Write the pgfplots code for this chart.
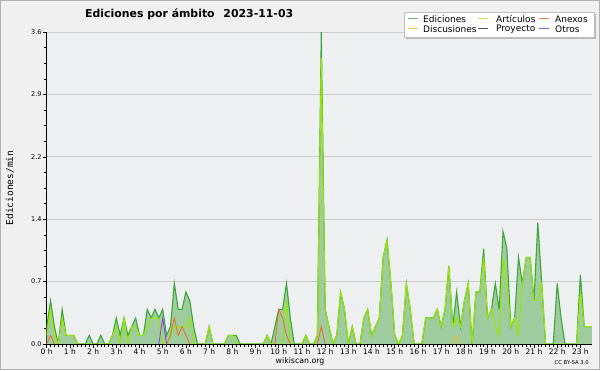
\documentclass[border=0pt]{standalone}
\usepackage{pgfplots}
\pgfplotsset{compat=1.18}
\usepackage{pgfplotstable}
\usepackage{fontspec}
\setmainfont{DejaVu Sans}
\newfontfamily\monofont{DejaVu Sans Mono}
\definecolor{outerbg}{HTML}{F0F0F0}
\definecolor{plotbg}{HTML}{EDEFF1}
\definecolor{efill}{HTML}{9FCC9F}
\definecolor{eline}{HTML}{3BA83B}
\definecolor{aline}{HTML}{9BE600}
\definecolor{nline}{HTML}{F06A20}
\definecolor{dline}{HTML}{E8C020}
\definecolor{oline}{HTML}{8A3CF0}
\definecolor{pline}{HTML}{555555}
\definecolor{gridc}{HTML}{CCCCCC}

\pgfplotstableread{
i E A
0 0.2 0.1
1 0.5 0.4
2 0.2 0.1
3 0 0
4 0.4 0.3
5 0.1 0.1
6 0.1 0.1
7 0.1 0.1
8 0 0
9 0 0
10 0 0
11 0.1 0
12 0 0
13 0 0
14 0.1 0
15 0 0
16 0 0
17 0.1 0.1
18 0.3 0.2
19 0.1 0
20 0.3 0.3
21 0.1 0
22 0.2 0.2
23 0.3 0.2
24 0.1 0.1
25 0.1 0.1
26 0.4 0.2
27 0.3 0.3
28 0.4 0.3
29 0.3 0.3
30 0.4 0
31 0.1 0
32 0.2 0.1
33 0.7 0.2
34 0.4 0.2
35 0.4 0.2
36 0.6 0.2
37 0.5 0.3
38 0.2 0
39 0 0
40 0 0
41 0 0
42 0.2 0.2
43 0 0
44 0 0
45 0 0
46 0 0
47 0.1 0.1
48 0.1 0.1
49 0.1 0
50 0 0
51 0 0
52 0 0
53 0 0
54 0 0
55 0 0
56 0 0
57 0.1 0.1
58 0 0
59 0.2 0
60 0.4 0
61 0.4 0
62 0.7 0.5
63 0.3 0
64 0 0
65 0 0
66 0 0
67 0.1 0.1
68 0 0
69 0 0
70 0.1 0.1
71 3.6 3.3
72 0.4 0.4
73 0.2 0.2
74 0 0
75 0.1 0.1
76 0.6 0.6
77 0.4 0.4
78 0 0
79 0.2 0.2
80 0 0
81 0 0
82 0.3 0.3
83 0.4 0.4
84 0.1 0.1
85 0.2 0.2
86 0.3 0.3
87 1.0 1.0
88 1.2 1.2
89 0.7 0.7
90 0.1 0.1
91 0 0
92 0.1 0.1
93 0.7 0.7
94 0.4 0.4
95 0 0
96 0 0
97 0 0
98 0.3 0.3
99 0.3 0.3
100 0.3 0.3
101 0.4 0.4
102 0.2 0.2
103 0.4 0.4
104 0.9 0.9
105 0.2 0.2
106 0.6 0.3
107 0.2 0.2
108 0.5 0.5
109 0.7 0.7
110 0 0
111 0.6 0.6
112 0.6 0.6
113 1.1 1.0
114 0.3 0.3
115 0.4 0.4
116 0.7 0.2
117 0.4 0.1
118 1.3 1.0
119 1.1 0.7
120 0.2 0.2
121 0.3 0.3
122 1.0 0.1
123 0.7 0.7
124 1.0 1.0
125 1.0 1.0
126 0.5 0.5
127 1.4 0.5
128 0.7 0.7
129 0 0
130 0 0
131 0 0
132 0.7 0
133 0.3 0
134 0 0
135 0 0
136 0 0
137 0 0
138 0.8 0.6
139 0.2 0.2
140 0.2 0.2
141 0.2 0.2
}\tabEA

\pgfplotstableread{
i v
0 0
1 0.1
2 0
nan nan
31 0
32 0.1
33 0.3
34 0.1
35 0.2
36 0.1
37 0
nan nan
59 0
60 0.4
61 0.3
62 0.1
63 0
nan nan
70 0
71 0.2
72 0
}\tabN

\pgfplotstableread{
i v
105 0
106 0.1
107 0
}\tabD

\pgfplotstableread{
i v
29 0
30 0.3
31 0
}\tabO

\begin{document}
\begin{tikzpicture}
\fill[outerbg] (0pt,0pt) rectangle (600pt,370pt);
\draw[gray!60, line width=1.2pt] (0.6pt,0.6pt) rectangle (599.4pt,369.4pt);
\begin{axis}[
  at={(46.7pt,26pt)}, anchor=south west,
  scale only axis, width=545.3pt, height=312pt,
  xmin=0, xmax=23.5, ymin=0, ymax=3.6,
  axis x line*=bottom, axis y line*=left,
  axis line style={black, line width=0.8pt},
  axis background/.style={fill=plotbg},
  xtick={0,...,23},
  xticklabels={0 h,1 h,2 h,3 h,4 h,5 h,6 h,7 h,8 h,9 h,10 h,11 h,12 h,13 h,14 h,15 h,16 h,17 h,18 h,19 h,20 h,21 h,22 h,23 h},
  minor x tick num=5,
  ytick={0,0.72,1.44,2.16,2.88,3.6},
  yticklabels={0.0,0.7,1.4,2.2,2.9,3.6},
  minor y tick num=3,
  tick align=outside,
  major tick length=4pt, minor tick length=3pt,
  every tick/.style={black, line width=0.6pt},
  ymajorgrids, major grid style={gridc, line width=0.8pt},
  xticklabel style={font=\fontsize{7.5}{8}\selectfont, inner sep=0.8pt},
  yticklabel style={font=\fontsize{6.5}{7}\selectfont, inner sep=1pt},
]
\addplot[draw=none, fill=efill] table[x expr=\thisrow{i}/6, y=E]{\tabEA} \closedcycle;
\addplot[eline, line width=1.1pt] table[x expr=\thisrow{i}/6, y=E]{\tabEA};
\addplot[aline, line width=1pt] table[x expr=\thisrow{i}/6, y=A]{\tabEA};
\addplot[nline, line width=0.8pt, unbounded coords=jump] table[x expr=\thisrow{i}/6, y=v]{\tabN};
\addplot[dline, line width=0.8pt] table[x expr=\thisrow{i}/6, y=v]{\tabD};
\addplot[oline, line width=0.8pt] table[x expr=\thisrow{i}/6, y=v]{\tabO};
\draw[black, line width=0.8pt] (axis cs:0,0) -- (axis cs:23.5,0);
\end{axis}
% legend box
\fill[gray!55] (406pt,331pt) rectangle (596pt,356pt);
\filldraw[fill=white, draw=gray!50, line width=0.6pt] (404pt,333pt) rectangle (594pt,358pt);
\draw[eline!75, line width=1pt] (408pt,351pt) -- (418pt,351pt);
\draw[aline!70, line width=1pt] (478pt,351pt) -- (488pt,351pt);
\draw[nline!85, line width=1pt] (539pt,351pt) -- (549pt,351pt);
\draw[dline!85, line width=1pt] (408pt,341pt) -- (418pt,341pt);
\draw[pline, line width=1pt] (478pt,341pt) -- (488pt,341pt);
\draw[oline!85, line width=1pt] (539pt,341pt) -- (549pt,341pt);
\begin{scope}[every node/.style={anchor=west, inner sep=0pt, font=\fontsize{9}{10}\selectfont}]
\node at (423pt,351pt) {Ediciones};
\node at (496pt,351pt) {Artículos};
\node at (555pt,351pt) {Anexos};
\node at (423pt,341pt) {Discusiones};
\node at (496pt,341pt) {Proyecto};
\node at (555pt,341pt) {Otros};
\end{scope}
\node[anchor=base west, font=\bfseries\fontsize{10.9}{13}\selectfont, inner sep=0pt] at (85pt,352pt) {Ediciones por ámbito\hspace{0.8em}2023-11-03};
\node[rotate=90, font=\monofont\fontsize{9.5}{10}\selectfont] at (10pt,182pt) {Ediciones/min};
\node[anchor=base, font=\fontsize{7.8}{9}\selectfont, inner sep=0pt] at (300pt,7pt) {wikiscan.org};
\node[anchor=base east, font=\fontsize{5.3}{6}\selectfont, inner sep=0pt] at (589pt,5.7pt) {CC BY-SA 3.0};
\pgfresetboundingbox
\path[use as bounding box] (0pt,0pt) rectangle (600pt,370pt);
\end{tikzpicture}
\end{document}
